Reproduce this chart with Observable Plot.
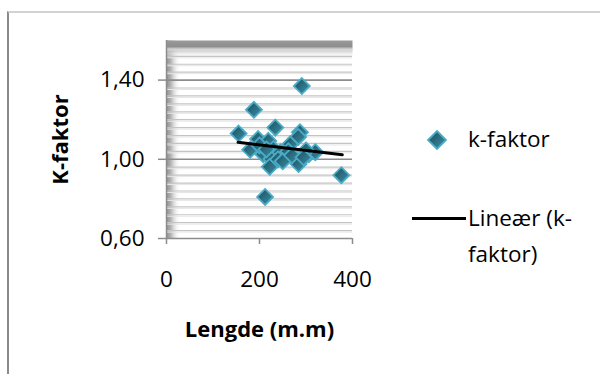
<!DOCTYPE html>
<html>
<head>
<meta charset="utf-8">
<script src="https://cdn.jsdelivr.net/npm/d3@7"></script>
<script src="https://cdn.jsdelivr.net/npm/@observablehq/plot@0.6"></script>
<style>
  html, body { margin: 0; padding: 0; background: #fff; }
  #wrap { position: relative; width: 600px; height: 374px; overflow: hidden; font-family: "Open Sans", sans-serif; }
  #border { position: absolute; left: 7px; top: 11px; width: 620px; height: 400px; border-left: 2px solid #8a8a8a; border-top: 2px solid #d2d2d2; }
  #chart { position: absolute; left: 0; top: 0; }
  .leg { position: absolute; font-size: 22.5px; color: #000; line-height: 36px; }
</style>
</head>
<body>
<div id="wrap">
  <div id="border"></div>
  <div id="chart"></div>
  <div class="leg" style="left:424px; top:127px;">
    <svg width="28" height="28" style="position:absolute; left:0; top:0;">
      <defs>
        <linearGradient id="mkL" x1="0" y1="0" x2="1" y2="1">
          <stop offset="0" stop-color="#1b4959"/>
          <stop offset="1" stop-color="#3c93ab"/>
        </linearGradient>
      </defs>
      <path d="M13,4 L22,13 L13,22 L4,13 Z" fill="url(#mkL)" stroke="#4bacc6" stroke-width="1.8"/>
    </svg>
  </div>
  <div class="leg" style="left:468px; top:121px;">k-faktor</div>
  <div class="leg" style="left:412px; top:217px; width:54px; height:3px; background:#000;"></div>
  <div class="leg" style="left:468px; top:200px;">Lineær (k-<br>faktor)</div>
</div>
<script>
// Data
const lengde = [291, 188, 155, 234, 287, 283, 197, 219, 180, 230, 208, 226, 255, 277, 284, 222, 306, 320, 266, 376, 212, 245, 200, 300, 240, 262, 215, 250, 270, 295];
const kfaktor = [1.37, 1.25, 1.13, 1.16, 1.136, 1.113, 1.102, 1.093, 1.048, 1.051, 1.026, 1.001, 1.018, 1.001, 0.976, 0.962, 1.026, 1.036, 1.076, 0.92, 0.81, 1.035, 1.07, 1.045, 1.0, 1.04, 1.05, 0.99, 1.02, 1.01];
const trendX = [154, 378];
const trendY = [1.086, 1.023];
const xTicks = [0, 200, 400];
const yTicks = [0.60, 1.00, 1.40];
const yMinor = [0.64, 0.68, 0.72, 0.76, 0.80, 0.84, 0.88, 0.92, 0.96, 1.04, 1.08, 1.12, 1.16, 1.20, 1.24, 1.28, 1.32, 1.36, 1.44, 1.48, 1.52, 1.56];

const points = lengde.map((x, i) => ({x, y: kfaktor[i]}));
const trend = trendX.map((x, i) => ({x, y: trendY[i]}));
const fmt = d => d.toFixed(2).replace(".", ",");

const plot = Plot.plot({
  width: 600,
  height: 374,
  marginLeft: 166,
  marginRight: 248,
  marginTop: 40,
  marginBottom: 136,
  style: {fontFamily: "Open Sans, sans-serif", fontSize: "22px", background: "transparent", color: "#000"},
  x: {domain: [0, 400]},
  y: {domain: [0.6, 1.6]},
  marks: [
    Plot.frame({fill: "#ffffff"}),
    Plot.frame({fill: "url(#bgLeft)"}),
    Plot.frame({fill: "url(#bgTop)"}),
    Plot.ruleY(yMinor, {stroke: "#c4c4c4", strokeWidth: 1.2}),
    Plot.ruleY(yMinor, {stroke: "#e6e6e6", strokeWidth: 1, dy: 1.5}),
    Plot.ruleY(yTicks, {stroke: "#8c8c8c", strokeWidth: 1.6}),
    Plot.ruleX([0], {stroke: "#8c8c8c", strokeWidth: 1.5}),
    Plot.axisY({ticks: yTicks, tickFormat: fmt, tickSize: 8, tickPadding: 14, stroke: "#8c8c8c", strokeWidth: 1.5, fontSize: 22.5, label: null}),
    Plot.axisX({ticks: xTicks, tickFormat: d => String(d), tickSize: 6, tickPadding: 27, stroke: "#8c8c8c", strokeWidth: 1.5, fontSize: 22.5, label: null}),
    Plot.dot(points, {x: "x", y: "y", symbol: "diamond2", r: 7.2, fill: "url(#mk)", stroke: "#4bacc6", strokeWidth: 1.8}),
    Plot.line(trend, {x: "x", y: "y", stroke: "#000", strokeWidth: 3}),
    Plot.text(["Lengde (m.m)"], {frameAnchor: "bottom", dy: 98, fontSize: 22, fontWeight: "bold", fill: "#000"}),
    Plot.text(["K-faktor"], {frameAnchor: "left", dx: -106, rotate: -90, textAnchor: "middle", fontSize: 22, fontWeight: "bold", fill: "#000"})
  ]
});

const svg = d3.select(plot);
const defs = svg.insert("defs", ":first-child");
const gl = defs.append("linearGradient").attr("id", "bgLeft").attr("x1", 0).attr("y1", 0).attr("x2", 1).attr("y2", 0);
gl.append("stop").attr("offset", 0).attr("stop-color", "#8e8e8e").attr("stop-opacity", 1);
gl.append("stop").attr("offset", 0.025).attr("stop-color", "#b8b8b8").attr("stop-opacity", 1);
gl.append("stop").attr("offset", 0.075).attr("stop-color", "#ffffff").attr("stop-opacity", 0);
gl.append("stop").attr("offset", 1).attr("stop-color", "#ffffff").attr("stop-opacity", 0);
const gt = defs.append("linearGradient").attr("id", "bgTop").attr("x1", 0).attr("y1", 0).attr("x2", 0).attr("y2", 1);
gt.append("stop").attr("offset", 0).attr("stop-color", "#9a9a9a").attr("stop-opacity", 1);
gt.append("stop").attr("offset", 0.03).attr("stop-color", "#8e8e8e").attr("stop-opacity", 1);
gt.append("stop").attr("offset", 0.065).attr("stop-color", "#e0e0e0").attr("stop-opacity", 0.6);
gt.append("stop").attr("offset", 0.09).attr("stop-color", "#ffffff").attr("stop-opacity", 0);
gt.append("stop").attr("offset", 1).attr("stop-color", "#ffffff").attr("stop-opacity", 0);
const gm = defs.append("linearGradient").attr("id", "mk").attr("x1", 0).attr("y1", 0).attr("x2", 1).attr("y2", 1);
gm.append("stop").attr("offset", 0).attr("stop-color", "#1b4959");
gm.append("stop").attr("offset", 1).attr("stop-color", "#3c93ab");

document.getElementById("chart").appendChild(plot);
</script>
</body>
</html>
